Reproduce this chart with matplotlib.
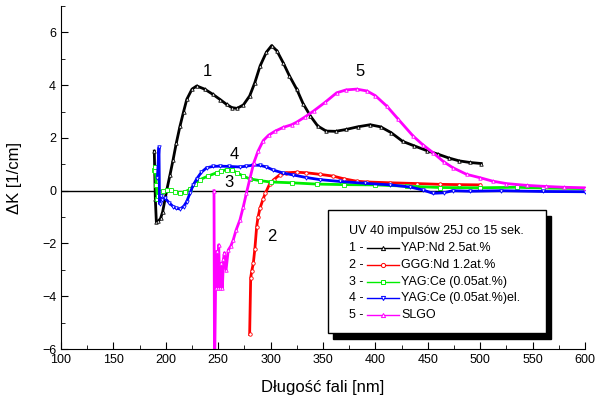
import matplotlib.pyplot as plt
from matplotlib.patches import Rectangle
from matplotlib.lines import Line2D
from matplotlib.ticker import MultipleLocator

plt.rcParams['font.family'] = ['Liberation Sans', 'DejaVu Sans']

# 1 - YAP:Nd 2.5at.%
wl1 = [189, 190, 191, 193, 195, 197, 201, 204, 207, 210, 213.5, 217, 220, 225, 229.5, 237, 245,
       252, 258, 263, 268, 274, 280, 285, 290, 296, 301, 306, 312, 318, 325, 331, 338, 345, 353,
       362, 372, 383, 395, 405, 415, 426, 437, 449, 460, 470, 480, 490, 501]
dk1 = [1.5, -0.3, -1.2, -1.15, -1.05, -0.8, 0.04, 0.6, 1.18, 1.8, 2.44, 3.0, 3.46, 3.85, 3.97, 3.85, 3.65,
       3.45, 3.27, 3.15, 3.12, 3.25, 3.59, 4.1, 4.73, 5.25, 5.5, 5.3, 4.85, 4.35, 3.84, 3.3, 2.83, 2.45, 2.26,
       2.25, 2.32, 2.42, 2.5, 2.42, 2.2, 1.87, 1.7, 1.52, 1.38, 1.24, 1.13, 1.07, 1.03]

# 2 - GGG:Nd 1.2at.%
wl2 = [280, 281, 282, 283.5, 285, 286.7, 288, 290, 293, 295, 299, 303, 309, 315, 325, 334, 347,
       360, 370, 382, 392, 414, 440, 462, 480, 500]
dk2 = [-5.45, -3.3, -3.05, -2.75, -2.2, -1.36, -1.0, -0.65, -0.3, -0.1, 0.25, 0.42, 0.61, 0.68, 0.7, 0.68, 0.62,
       0.55, 0.45, 0.36, 0.33, 0.3, 0.27, 0.24, 0.23, 0.22]

# 3 - YAG:Ce (0.05at.%)
wl3 = [189, 189.5, 190, 191, 192, 193, 195, 197, 201, 205, 209, 213.5, 218, 223, 228, 232.6, 240, 248.5,
       253, 258, 263, 268, 274, 280, 290, 300, 320, 344, 370, 400, 430, 462, 500, 535, 560, 600]
dk3 = [0.8, 0.9, 0.75, 0.2, -0.3, -0.2, -0.05, 0.0, 0.02, 0.04, -0.05, -0.1, -0.05, 0.05, 0.25, 0.42, 0.55, 0.68,
       0.74, 0.8, 0.78, 0.68, 0.55, 0.45, 0.38, 0.33, 0.3, 0.25, 0.23, 0.22, 0.17, 0.12, 0.11, 0.13, 0.1, 0.08]

# 4 - YAG:Ce (0.05at.%)el.
wl4 = [192, 193.5, 194, 195, 196, 199, 203, 207, 210, 213.5, 217, 220, 223, 226, 229.5, 234, 239, 245,
       251.7, 260, 270.8, 277, 283.5, 290, 296, 302.6, 312, 321, 334, 347, 366, 390, 414, 433, 445,
       455, 465, 474, 490, 520, 560, 600]
dk4 = [0.5, 1.65, -0.5, -0.2, -0.35, -0.27, -0.45, -0.6, -0.67, -0.69, -0.6, -0.41, -0.1, 0.2, 0.45, 0.7, 0.87, 0.92,
       0.93, 0.92, 0.9, 0.93, 0.97, 0.96, 0.9, 0.78, 0.67, 0.6, 0.5, 0.42, 0.35, 0.28, 0.22, 0.14, 0.03,
       -0.1, -0.08, 0.0, -0.02, 0.0, -0.03, -0.04]

# 5 - SLGO
wl5 = [246, 246.5, 247.5, 248.5, 249.5, 250.5, 251.5, 253, 254, 255, 256, 257.5, 259.6, 262, 264.4, 267,
       270.8, 274, 277, 280.5, 284, 288, 293, 298, 304, 312, 320, 325, 333, 341, 352, 363, 372, 382,
       392, 400, 411, 422, 436, 445, 455, 465, 474, 487, 500, 512, 525, 545, 563, 580, 600]
dk5 = [0.0, -7.0, -3.7, -2.3, -3.7, -2.05, -3.7, -2.75, -3.7, -2.6, -2.35, -3.0, -2.25, -2.1, -1.86, -1.5,
       -1.1, -0.6, -0.08, 0.5, 1.06, 1.5, 1.9, 2.1, 2.25, 2.4, 2.5, 2.6, 2.8, 3.02, 3.35, 3.71, 3.82, 3.85,
       3.78, 3.6, 3.2, 2.7, 2.07, 1.75, 1.44, 1.1, 0.87, 0.62, 0.49, 0.36, 0.27, 0.2, 0.16, 0.13, 0.11]

names = ['YAP:Nd 2.5at.%', 'GGG:Nd 1.2at.%', 'YAG:Ce (0.05at.%)', 'YAG:Ce (0.05at.%)el.', 'SLGO']
colors = ['black', 'red', '#00ee00', 'blue', 'magenta']
markers = ['^', 'o', 's', 'v', '^']
series = [(wl1, dk1), (wl2, dk2), (wl3, dk3), (wl4, dk4), (wl5, dk5)]

fig = plt.figure(figsize=(5.97, 4.05), dpi=100)
ax = fig.add_axes([61 / 597, 1 - 349 / 405, 524 / 597, 343 / 405])

ax.axhline(0, color='black', lw=1)
for (x, y), c, m in zip(series, colors, markers):
    ax.plot(x, y, color=c, lw=2, marker=m, markersize=2.5, markerfacecolor='white',
            markeredgewidth=0.6)

# numbers next to the curves
for txt, x, y in [('1', 240, 4.52), ('5', 385, 4.52), ('4', 265, 1.37), ('3', 260.5, 0.3), ('2', 301, -1.75)]:
    ax.text(x, y, txt, fontsize=12, ha='center', va='center')

ax.set_xlim(100, 600)
ax.set_ylim(-6, 7)
ax.set_yticks([-6, -4, -2, 0, 2, 4, 6])
ax.xaxis.set_major_locator(MultipleLocator(50))
ax.xaxis.set_minor_locator(MultipleLocator(25))
ax.yaxis.set_minor_locator(MultipleLocator(1))
ax.tick_params(which='both', direction='in', labelsize=9)
ax.tick_params(which='major', length=5)
ax.tick_params(which='minor', length=3)
ax.spines['top'].set_visible(False)
ax.spines['right'].set_visible(False)
ax.set_xlabel('Długość fali [nm]', fontsize=12, labelpad=10)
ax.set_ylabel('ΔK [1/cm]', fontsize=12, labelpad=14)


# legend drawn by hand, pixel positions in the 597x405 image
def fx(px):
    return px / 597


def fy(py):
    return 1 - py / 405


fig.patches.append(Rectangle((fx(333), fy(339)), 218 / 597, 123 / 405, transform=fig.transFigure,
                             facecolor='black', edgecolor='black', zorder=5))
fig.patches.append(Rectangle((fx(328), fy(333)), 218 / 597, 123 / 405, transform=fig.transFigure,
                             facecolor='white', edgecolor='black', lw=1, zorder=6))
fig.text(fx(349), fy(231), 'UV 40 impulsów 25J co 15 sek.', fontsize=9, va='center', zorder=7)
for i, (name, c, m) in enumerate(zip(names, colors, markers)):
    yy = fy(248 + i * 16.8)
    fig.text(fx(349), yy, f'{i + 1} -', fontsize=9, va='center', zorder=7)
    fig.lines.append(Line2D([fx(367), fx(399)], [yy, yy], transform=fig.transFigure, color=c, lw=1,
                            zorder=7))
    fig.lines.append(Line2D([fx(383)], [yy], transform=fig.transFigure, color=c, marker=m, markersize=3,
                            markerfacecolor='white', markeredgewidth=0.7, zorder=8))
    fig.text(fx(401), yy, name, fontsize=9, va='center', zorder=7)

fig.savefig('out.png', dpi=100)
